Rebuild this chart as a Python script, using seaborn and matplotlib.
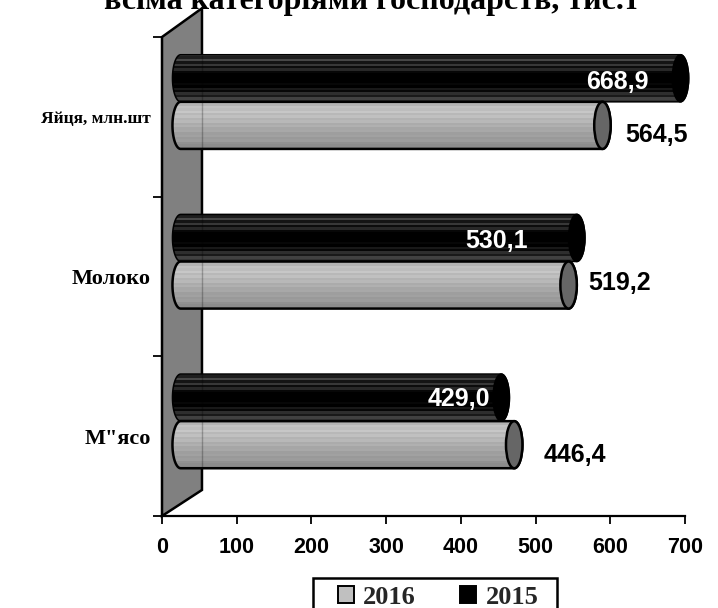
import numpy as np
import pandas as pd
import matplotlib
matplotlib.use('Agg')
import matplotlib.pyplot as plt
from matplotlib.patches import Polygon, Ellipse, Patch, Rectangle
import seaborn as sns

CATEGORIES = ['Яйця, млн.шт', 'Молоко', 'М"ясо']
CATEGORY_SIZES = [12.5, 16, 16]
VALUES_2015 = [668.9, 530.1, 429.0]
VALUES_2016 = [564.5, 519.2, 446.4]
X_TICKS = [0, 100, 200, 300, 400, 500, 600, 700]
TITLE = 'всіма категоріями господарств, тис.т'

# 3d look: how far the bars sit from the wall, and the cylinder cap radius
DEPTH_X, DEPTH_Y = 25, -0.094
CAP_RX = 11
# banded shading of the cylinders, top to bottom
GRAY_BANDS = [.60, .70, .76, .74, .78, .72, .75, .70, .72, .67, .69, .65, .66, .62, .63, .60, .61, .57, .55, .52]
DARK_BANDS = [.30, .12, .28, .08, .22, .05, .16, .03, .0, .0, .0, .0, .03, .0, .10, .03, .18, .10, .26, .20]
# label offsets from the bar end, pixels
LABEL_DX = {'2015': [-63, -80, -42], '2016': [54, 51, 61]}
LABEL_DY = {'2015': [-4, -3, -1], '2016': [-10, 2, -10]}

SERIF = 'Liberation Serif'
SANS = 'Liberation Sans'

sns.set_theme(style='white')
plt.rcParams['font.family'] = [SANS, 'DejaVu Sans']

df = pd.DataFrame({
    'category': CATEGORIES * 2,
    'value': VALUES_2015 + VALUES_2016,
    'year': ['2015'] * 3 + ['2016'] * 3,
})

fig = plt.figure(figsize=(7.18, 6.08), dpi=100)
ax = fig.add_axes([162 / 718, 1 - 516 / 608, (685 - 162) / 718, (516 - 37) / 608])

sns.barplot(data=df, y='category', x='value', hue='year', hue_order=['2015', '2016'],
            palette={'2015': '#000000', '2016': '#b4b4b4'}, width=0.59, legend=False,
            saturation=1, ax=ax)
ax.set_xlim(0, 700)
ax.set_ylim(2.5, -0.5)
ax.set_xlabel('')
ax.set_ylabel('')

# grey wall of the 3d chart
wall = Polygon([(0, -0.5), (53.5, -0.68), (53.5, 2.337), (0, 2.5)], closed=True, facecolor='#808080',
               edgecolor='black', lw=1.8, clip_on=False, zorder=1)
ax.add_patch(wall)

n = len(CATEGORIES)
years = ['2015'] * n + ['2016'] * n
for i, (bar, year) in enumerate(zip(ax.patches[:2 * n], years)):
    k = i % n
    x1 = bar.get_width() + DEPTH_X
    y0 = bar.get_y() + DEPTH_Y
    h = bar.get_height()
    cy = y0 + h / 2
    bar.set_visible(False)

    z = 3 if year == '2015' else 6
    lw = 1.1 if year == '2015' else 1.8
    t1 = np.radians(np.linspace(90, 270, 40))
    t2 = np.radians(np.linspace(270, 450, 40))
    xs = np.r_[DEPTH_X + CAP_RX * np.cos(t1), x1 + CAP_RX * np.cos(t2)]
    ys = np.r_[cy - h / 2 * np.sin(t1), cy - h / 2 * np.sin(t2)]
    body = Polygon(np.c_[xs, ys], closed=True, facecolor='none', edgecolor='black', lw=lw, zorder=z + 1,
                   clip_on=False)
    ax.add_patch(body)

    bands = GRAY_BANDS if year == '2016' else DARK_BANDS
    im = ax.imshow(np.array(bands)[:, None], cmap='gray', vmin=0, vmax=1, aspect='auto',
                   extent=(DEPTH_X - CAP_RX, x1 + CAP_RX, y0 + h, y0), zorder=z, interpolation='nearest')
    im.set_clip_path(body)

    cap = Ellipse((x1, cy), 2 * CAP_RX, h, facecolor='#666666' if year == '2016' else 'black',
                  edgecolor='black', lw=lw, zorder=z + 2, clip_on=False)
    ax.add_patch(cap)

    # the wall edge shows faintly through the bars
    ax.vlines(53.5, y0, y0 + h, color='black', lw=1, alpha=0.25, zorder=z + 2)

    ax.annotate(f'{bar.get_width():.1f}'.replace('.', ','), xy=(x1, cy),
                xytext=(LABEL_DX[year][k], LABEL_DY[year][k]), textcoords='offset pixels',
                ha='center', va='center', fontsize=18, fontweight='bold',
                color='white' if year == '2015' else 'black', zorder=12, annotation_clip=False)

ax.set_xlim(0, 700)
ax.set_ylim(2.5, -0.5)

for s in ['top', 'right', 'left']:
    ax.spines[s].set_visible(False)
ax.spines['bottom'].set_linewidth(1.6)
ax.spines['bottom'].set_color('black')
ax.spines['bottom'].set_zorder(2)

ax.set_xticks(X_TICKS)
ax.set_xticklabels([str(v) for v in X_TICKS], fontsize=15.5, fontweight='bold', color='black')
ax.tick_params(axis='x', bottom=True, length=5.5, width=1.3, color='black', pad=9.5)

ax.set_yticks(range(n))
ax.set_yticklabels(CATEGORIES, fontweight='bold', family=SERIF, color='black')
for lab, size in zip(ax.get_yticklabels(), CATEGORY_SIZES):
    lab.set_fontsize(size)
ax.tick_params(axis='y', which='major', left=False, length=0, pad=8)
ax.set_yticks([-0.5, 0.5, 1.5, 2.5], minor=True)
ax.tick_params(axis='y', which='minor', left=True, length=6.5, width=1.3, color='black')

fig.text(371.5 / 718, 1 - 9 / 608, TITLE, ha='center', va='baseline', fontsize=23, fontweight='bold',
         family=SERIF, color='black')

handles = [Patch(facecolor='#c0c0c0', edgecolor='black', lw=1.4, label='2016'),
           Patch(facecolor='black', edgecolor='black', lw=1.4, label='2015')]
leg = ax.legend(handles=handles, ncol=2, loc='center', bbox_to_anchor=(438 / 718, 1 - 597 / 608),
                bbox_transform=fig.transFigure, frameon=False,
                handlelength=0.6, handleheight=0.6, handletextpad=0.35, columnspacing=1.7,
                borderpad=0.25, prop={'family': SERIF, 'weight': 'bold', 'size': 19})
# legend box runs off the bottom edge like in the source
fig.add_artist(Rectangle((313 / 718, -0.002), 244 / 718, 1 - 578 / 608 + 0.002, transform=fig.transFigure,
                         facecolor='none', edgecolor='black', lw=1.8))

fig.savefig('out.png', dpi=100)
